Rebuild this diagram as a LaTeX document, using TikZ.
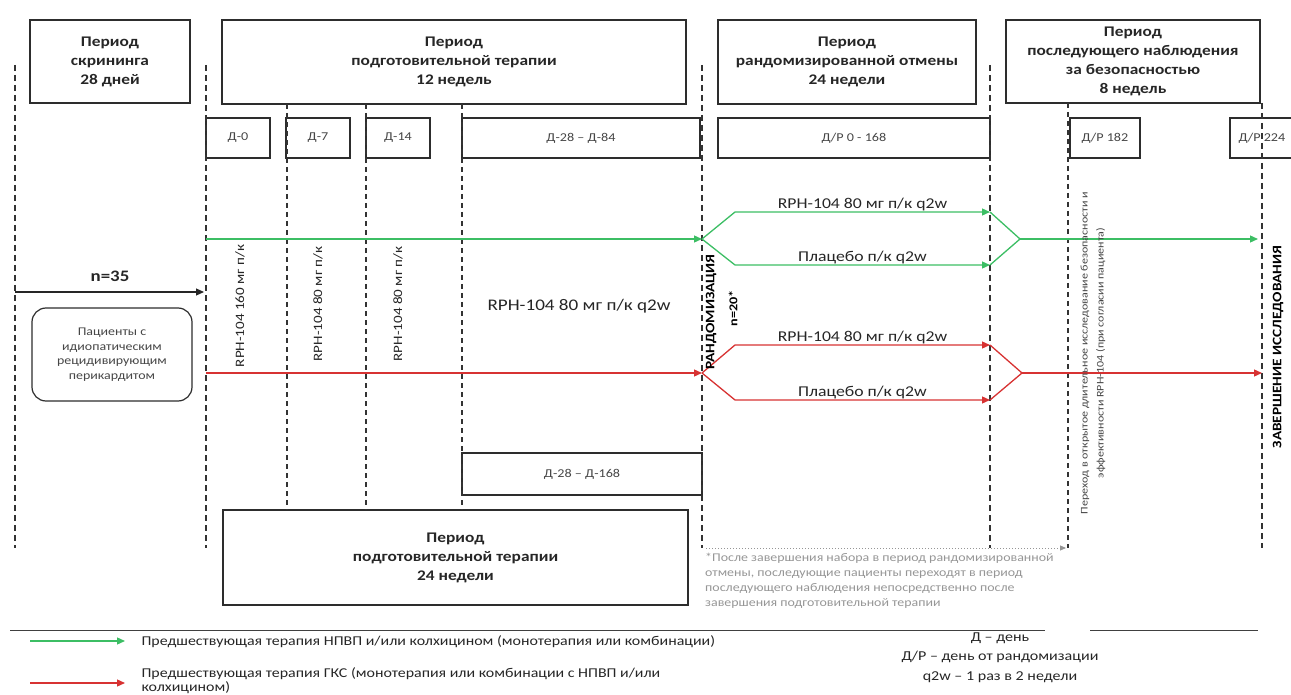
\documentclass[tikz,border=0pt]{standalone}
\usepackage{fontspec}
\setmainfont{Carlito}[FakeStretch=1.18]
\usetikzlibrary{arrows.meta,calc}
\definecolor{gline}{RGB}{60,190,100}
\definecolor{rline}{RGB}{215,50,50}
\definecolor{boxc}{RGB}{45,45,45}
\definecolor{txtc}{RGB}{70,70,70}
\definecolor{notec}{RGB}{150,150,150}
\tikzset{
  period/.style={draw=boxc, line width=1.3pt, align=center, inner sep=0pt,
    font=\bfseries\fontsize{14.7}{19}\selectfont, text=black!85},
  daybox/.style={draw=boxc, line width=1.3pt, inner sep=0pt,
    font=\fontsize{12}{13}\selectfont, text=txtc},
  thickdash/.style={draw=black!80, line width=1.7pt, dash pattern=on 6pt off 4pt},
  thindash/.style={draw=black!80, line width=1.1pt, dash pattern=on 5pt off 4pt},
  tip/.style={-{Triangle[length=8pt,width=7pt]}},
  gflow/.style={draw=gline, line width=1.3pt},
  rflow/.style={draw=rline, line width=1.3pt},
  brlbl/.style={font=\fontsize{15}{16}\selectfont, text=black!85, inner sep=0.5pt, anchor=south},
  vlbl/.style={rotate=90, font=\fontsize{12.8}{15}\selectfont, text=black!85},
  legtxt/.style={font=\fontsize{13.5}{14}\selectfont, text=black!85, align=left, anchor=west},
  keytxt/.style={font=\fontsize{13.6}{15}\selectfont, text=black!85},
}
\begin{document}
\begin{tikzpicture}[x=1pt,y=-1pt]
\useasboundingbox (0,0) rectangle (1291,695);

% period boxes
\node[period, minimum width=160, minimum height=83] (scr) at (110,61.5) {Период\\скрининга\\28 дней};
\node[period, minimum width=464, minimum height=84] (prep) at (454,62) {Период\\подготовительной терапии\\12 недель};
\node[period, minimum width=258, minimum height=84] (rand) at (847,62) {Период\\рандомизированной отмены\\24 недели};
\node[period, minimum width=254, minimum height=83] (fol) at (1133,61.5) {Период\\последующего наблюдения\\за безопасностью\\8 недель};
\node[period, minimum width=465, minimum height=95] (prepb) at (455.5,557.5) {Период\\подготовительной терапии\\24 недели};

% day boxes
\node[daybox, minimum width=64, minimum height=40] (d0) at (238,138) {Д-0};
\node[daybox, minimum width=64, minimum height=40] (d7) at (318,138) {Д-7};
\node[daybox, minimum width=64, minimum height=40] (d14) at (398,138) {Д-14};
\node[daybox, minimum width=238, minimum height=40] (d28) at (581,138) {Д-28 – Д-84};
\node[daybox, minimum width=272, minimum height=40] (dr0) at (854,138) {Д/Р 0 - 168};
\node[daybox, minimum width=70, minimum height=40] (dr182) at (1105,138) {Д/Р 182};
\node[daybox, minimum width=64, minimum height=40] (dr224) at (1262,138) {Д/Р 224};
\node[daybox, minimum width=240, minimum height=42] (d168) at (582,474) {Д-28 – Д-168};

% timeline dashed lines
\draw[thickdash] (15,65) -- (15,548);
\draw[thickdash] (206,65) -- (206,548);
\draw[thickdash] (702,65) -- (702,548);
\draw[thickdash] (990,65) -- (990,548);
\draw[thickdash] (1262,103) -- (1262,548);
\draw[thindash] (287,104) -- (287,510);
\draw[thindash] (366,104) -- (366,510);
\draw[thindash] (462,104) -- (462,510);
\draw[thindash] (1068,103) -- (1068,548);

% dotted note arrow
\coordinate (ns) at (706,548);
\coordinate (ne) at (1066,548);
\draw[notec, line width=1pt, dotted, -{Triangle[length=6pt,width=5pt]}] (ns) -- (ne);

% patients
\node[draw=boxc, line width=1.2pt, rounded corners=14pt, minimum width=160, minimum height=93,
  align=center, font=\fontsize{11.8}{14.5}\selectfont, text=txtc] (pat) at (112,354.5)
  {Пациенты с\\идиопатическим\\рецидивирующим\\перикардитом};
\coordinate (n0) at (15,292);
\coordinate (n1) at (204,292);
\draw[black!85, line width=1.2pt, tip] (n0) -- (n1);
\node[font=\bfseries\fontsize{16}{17}\selectfont, text=black!85] (n35) at (110,276) {n=35};

% green flow
\coordinate (gs) at (206,239);
\coordinate (gr) at (702,239);
\coordinate (gt1) at (735,212);
\coordinate (gte) at (990,212);
\coordinate (gb1) at (735,265);
\coordinate (gbe) at (990,265);
\coordinate (gm) at (1020,239);
\coordinate (gend) at (1258,239);
\draw[gflow, tip] (gs) -- (gr);
\draw[gflow, tip] (gr) -- (gt1) -- (gte);
\draw[gflow, tip] (gr) -- (gb1) -- (gbe);
\draw[gflow] (gte) -- (gm) -- (gbe);
\draw[gflow, tip] (gm) -- (gend);
\node[brlbl] (gl1) at ($(gt1)!0.5!(gte)$) {RPH-104 80 мг п/к q2w};
\node[brlbl] (gl2) at ($(gb1)!0.5!(gbe)$) {Плацебо п/к q2w};

% red flow
\coordinate (rs) at (206,373);
\coordinate (rr) at (702,373);
\coordinate (rt1) at (735,345);
\coordinate (rte) at (990,345);
\coordinate (rb1) at (735,400);
\coordinate (rbe) at (990,400);
\coordinate (rm) at (1022,373);
\coordinate (rend) at (1262,373);
\draw[rflow, tip] (rs) -- (rr);
\draw[rflow, tip] (rr) -- (rt1) -- (rte);
\draw[rflow, tip] (rr) -- (rb1) -- (rbe);
\draw[rflow] (rte) -- (rm) -- (rbe);
\draw[rflow, tip] (rm) -- (rend);
\node[brlbl] (rl1) at ($(rt1)!0.5!(rte)$) {RPH-104 80 мг п/к q2w};
\node[brlbl] (rl2) at ($(rb1)!0.5!(rbe)$) {Плацебо п/к q2w};

% vertical labels
\node[vlbl] (v1) at (240,306) {RPH-104 160 мг п/к};
\node[vlbl] (v2) at (318,304) {RPH-104 80 мг п/к};
\node[vlbl] (v3) at (398,304) {RPH-104 80 мг п/к};
\node[font=\fontsize{16.2}{17}\selectfont, text=black!85] (mt) at (579,306) {RPH-104 80 мг п/к q2w};
\node[rotate=90, font=\bfseries\fontsize{13}{15}\selectfont, text=black] (rnd) at (711,312) {РАНДОМИЗАЦИЯ};
\node[rotate=90, font=\bfseries\fontsize{12}{15}\selectfont, text=black] (n20) at (733,308) {n=20*};
\node[rotate=90, align=center, font=\fontsize{10.2}{16}\selectfont, text=txtc] (ole) at (1093,353)
  {Переход в открытое длительное исследование безопасности и\\эффективности RPH-104 (при согласии пациента)};
\node[rotate=90, font=\bfseries\fontsize{13}{15}\selectfont, text=black] (fin) at (1278,347) {ЗАВЕРШЕНИЕ ИССЛЕДОВАНИЯ};

% footnote
\node[anchor=north west, align=left, inner sep=0pt, font=\fontsize{11.8}{15}\selectfont, text=notec] (note) at (705,553)
  {*После завершения набора в период рандомизированной\\отмены, последующие пациенты переходят в период\\последующего наблюдения непосредственно после\\завершения подготовительной терапии};

% legend
\coordinate (la) at (10,630);
\coordinate (lb) at (1045,630);
\coordinate (lc) at (1090,630);
\coordinate (ld) at (1258,630);
\draw[black!75, line width=1pt] (la) -- (lb);
\draw[black!75, line width=1pt] (lc) -- (ld);
\coordinate (lg0) at (30,641);
\coordinate (lg1) at (125,641);
\coordinate (lr0) at (30,683);
\coordinate (lr1) at (125,683);
\draw[gflow, tip] (lg0) -- (lg1);
\draw[rflow, tip] (lr0) -- (lr1);
\node[legtxt] (lgt) at (138,642) {Предшествующая терапия НПВП и/или колхицином (монотерапия или комбинации)};
\node[legtxt] (lrt) at (138,680.5) {Предшествующая терапия ГКС (монотерапия или комбинации с НПВП и/или\\колхицином)};
\node[keytxt] (k1) at (1000,638) {Д – день};
\node[keytxt] (k2) at (1000,657) {Д/Р – день от рандомизации};
\node[keytxt] (k3) at (1000,677) {q2w – 1 раз в 2 недели};
\end{tikzpicture}
\end{document}
